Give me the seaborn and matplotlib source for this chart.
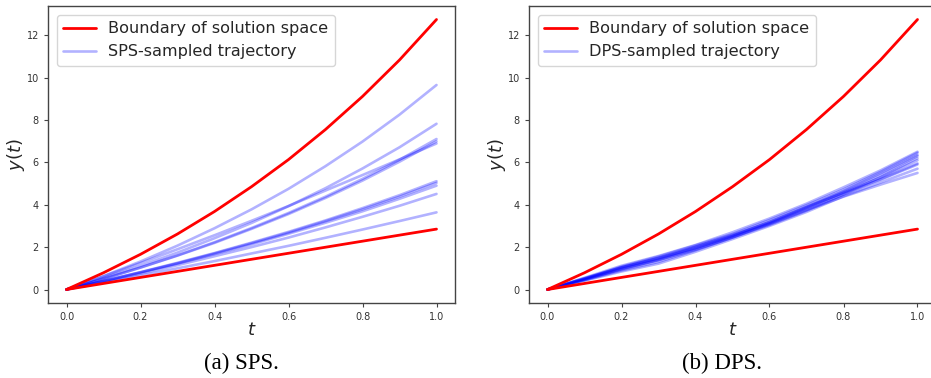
import matplotlib
matplotlib.use("Agg")
import matplotlib.pyplot as plt
import seaborn as sns
import numpy as np

# ---- data ----
t = [0.0, 0.1, 0.2, 0.3, 0.4, 0.5, 0.6, 0.7, 0.8, 0.9, 1.0]

upper_boundary = [0, 0.79, 1.66, 2.62, 3.68, 4.85, 6.13, 7.55, 9.11, 10.83, 12.74]
lower_boundary = [0, 0.285, 0.57, 0.855, 1.14, 1.425, 1.71, 1.995, 2.28, 2.565, 2.85]

sps_1 = [0, 0.63, 1.32, 2.07, 2.89, 3.78, 4.75, 5.82, 6.98, 8.25, 9.65]
sps_2 = [0, 0.54, 1.12, 1.74, 2.42, 3.14, 3.93, 4.78, 5.71, 6.71, 7.82]
sps_3 = [0, 0.50, 1.04, 1.61, 2.23, 2.90, 3.61, 4.38, 5.22, 6.12, 7.10]
sps_4 = [0, 0.50, 1.03, 1.60, 2.20, 2.86, 3.56, 4.32, 5.14, 6.03, 6.99]
sps_5 = [0, 0.62, 1.25, 1.90, 2.56, 3.24, 3.94, 4.67, 5.40, 6.14, 6.89]
sps_6 = [0, 0.40, 0.82, 1.26, 1.72, 2.21, 2.72, 3.26, 3.84, 4.45, 5.11]
sps_7 = [0, 0.40, 0.81, 1.24, 1.70, 2.18, 2.68, 3.22, 3.78, 4.38, 5.03]
sps_8 = [0, 0.39, 0.80, 1.22, 1.67, 2.13, 2.63, 3.15, 3.69, 4.28, 4.90]
sps_9 = [0, 0.37, 0.75, 1.15, 1.57, 2.00, 2.45, 2.93, 3.43, 3.95, 4.51]
sps_10 = [0, 0.33, 0.66, 1.00, 1.34, 1.70, 2.06, 2.44, 2.83, 3.23, 3.64]

dps_1 = [0, 0.55, 1.12, 1.58, 2.10, 2.70, 3.35, 4.05, 4.82, 5.62, 6.50]
dps_2 = [0, 0.50, 1.08, 1.55, 2.08, 2.62, 3.28, 3.98, 4.72, 5.55, 6.45]
dps_3 = [0, 0.47, 0.98, 1.42, 2.00, 2.58, 3.18, 3.90, 4.65, 5.48, 6.35]
dps_4 = [0, 0.53, 1.05, 1.48, 1.95, 2.52, 3.12, 3.85, 4.60, 5.40, 6.30]
dps_5 = [0, 0.45, 0.95, 1.40, 1.88, 2.45, 3.12, 3.78, 4.50, 5.30, 6.20]
dps_6 = [0, 0.52, 1.04, 1.50, 2.03, 2.56, 3.15, 3.86, 4.58, 5.28, 6.10]
dps_7 = [0, 0.44, 0.90, 1.30, 1.85, 2.45, 3.05, 3.72, 4.48, 5.20, 5.95]
dps_8 = [0, 0.50, 1.02, 1.45, 1.96, 2.52, 3.20, 3.90, 4.55, 5.18, 5.90]
dps_9 = [0, 0.42, 0.85, 1.22, 1.78, 2.38, 3.00, 3.66, 4.40, 5.05, 5.70]
dps_10 = [0, 0.48, 0.97, 1.38, 1.90, 2.48, 3.08, 3.75, 4.38, 4.95, 5.50]

sps_trajectories = [sps_1, sps_2, sps_3, sps_4, sps_5, sps_6, sps_7, sps_8, sps_9, sps_10]
dps_trajectories = [dps_1, dps_2, dps_3, dps_4, dps_5, dps_6, dps_7, dps_8, dps_9, dps_10]

panels = [
    ("SPS-sampled trajectory", sps_trajectories, "(a) SPS."),
    ("DPS-sampled trajectory", dps_trajectories, "(b) DPS."),
]

# ---- style ----
sns.set_style("ticks")
plt.rcParams["font.family"] = ["DejaVu Sans"]
plt.rcParams["axes.edgecolor"] = "#444444"
plt.rcParams["xtick.color"] = "#444444"
plt.rcParams["ytick.color"] = "#444444"
plt.rcParams["xtick.labelcolor"] = "#333333"
plt.rcParams["ytick.labelcolor"] = "#333333"

fig = plt.figure(figsize=(9.31, 3.78), dpi=100)
lefts = [48 / 931, 529 / 931]
bottom = 1 - 303 / 378
height = (303 - 6) / 378
width = 407 / 931

for (traj_label, trajs, caption), left in zip(panels, lefts):
    ax = fig.add_axes([left, bottom, width, height])
    for i, tr in enumerate(trajs):
        sns.lineplot(x=t, y=tr, ax=ax, color="blue", alpha=0.3, lw=1.9,
                     label=traj_label if i == 0 else None, zorder=2)
    sns.lineplot(x=t, y=upper_boundary, ax=ax, color="red", lw=2.0,
                 label="Boundary of solution space", zorder=3)
    sns.lineplot(x=t, y=lower_boundary, ax=ax, color="red", lw=2.0, zorder=3)

    ax.set_xlim(-0.05, 1.05)
    ax.set_ylim(-0.637, 13.377)
    ax.set_xticks([0.0, 0.2, 0.4, 0.6, 0.8, 1.0])
    ax.set_xticklabels(["0.0", "0.2", "0.4", "0.6", "0.8", "1.0"])
    ax.set_yticks([0, 2, 4, 6, 8, 10, 12])
    ax.tick_params(labelsize=7, length=3, width=0.8)
    for s in ax.spines.values():
        s.set_linewidth(1.0)
    ax.set_xlabel(r"$t$", fontsize=13, labelpad=-1)
    ax.set_ylabel(r"$y(t)$", fontsize=13, labelpad=0)

    handles, labels = ax.get_legend_handles_labels()
    order = [labels.index("Boundary of solution space"), labels.index(traj_label)]
    ax.legend([handles[k] for k in order], [labels[k] for k in order],
              loc="upper left", fontsize=11.6, frameon=True,
              borderaxespad=0.55, handlelength=2.0)

    ax.text(0.475, -0.202, caption, transform=ax.transAxes, ha="center", va="center",
            fontsize=16.5, family=["Liberation Serif"], color="black")

fig.savefig("out.png", dpi=100)
